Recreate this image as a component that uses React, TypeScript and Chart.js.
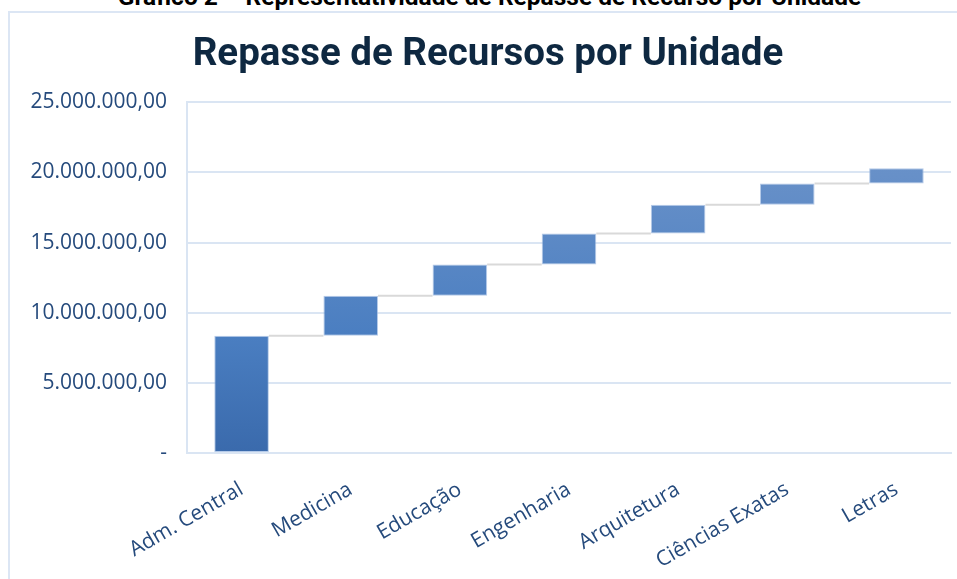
import React, { useEffect, useRef } from "react";
import { Chart, registerables } from "chart.js";

Chart.register(...registerables);

const categories = [
  "Adm. Central",
  "Medicina",
  "Educação",
  "Engenharia",
  "Arquitetura",
  "Ciências Exatas",
  "Letras",
];

// Repasse de recursos (R$) de cada unidade
const repasses = [8360000, 2850000, 2230000, 2200000, 2060000, 1500000, 1090000];

const yTickValues = [0, 5000000, 10000000, 15000000, 20000000, 25000000];
const yTickLabels = [
  "-",
  "5.000.000,00",
  "10.000.000,00",
  "15.000.000,00",
  "20.000.000,00",
  "25.000.000,00",
];

const chartTitle = "Repasse de Recursos por Unidade";
const figureCaption = "Gráfico 2 – Representatividade de Repasse de Recurso por Unidade";

const cumulative: number[] = [];
repasses.reduce((acc, v) => {
  const next = acc + v;
  cumulative.push(next);
  return next;
}, 0);
const floating = repasses.map((v, i) => [cumulative[i] - v, cumulative[i]]);

const axisColor = "#254A7C";
const gridColor = "#DAE5F3";

const connectorPlugin = {
  id: "connectors",
  beforeDatasetsDraw(chart: any) {
    const meta = chart.getDatasetMeta(0);
    const yScale = chart.scales.y;
    const ctx = chart.ctx;
    ctx.save();
    ctx.strokeStyle = "#D9D9D9";
    ctx.lineWidth = 2;
    for (let i = 0; i < meta.data.length - 1; i++) {
      const a = meta.data[i];
      const b = meta.data[i + 1];
      const yy = yScale.getPixelForValue(cumulative[i]);
      ctx.beginPath();
      ctx.moveTo(a.x + a.width / 2, yy);
      ctx.lineTo(b.x - b.width / 2, yy);
      ctx.stroke();
    }
    ctx.restore();
  },
};

export default function App() {
  const ref = useRef<HTMLCanvasElement | null>(null);

  useEffect(() => {
    if (!ref.current) return;
    const chart = new Chart(ref.current, {
      type: "bar",
      data: {
        labels: categories,
        datasets: [
          {
            data: floating as any,
            backgroundColor: (c: any) => {
              const area = c.chart.chartArea;
              if (!area) return "#4A7EC1";
              const g = c.chart.ctx.createLinearGradient(0, area.bottom, 0, area.top);
              g.addColorStop(0, "#3A6AAC");
              g.addColorStop(0.33, "#4A7EC1");
              g.addColorStop(0.79, "#6790C8");
              g.addColorStop(1, "#6E96CB");
              return g;
            },
            borderColor: "rgba(150,180,222,0.7)",
            borderWidth: 1,
            borderSkipped: false,
            categoryPercentage: 1,
            barPercentage: 0.5,
          },
        ],
      },
      options: {
        animation: false,
        responsive: false,
        maintainAspectRatio: false,
        layout: { padding: { left: 25, right: 6, top: 0, bottom: 0 } },
        plugins: {
          legend: { display: false },
          tooltip: { enabled: false },
          title: {
            display: true,
            text: chartTitle,
            color: "#0E2841",
            font: { family: "Roboto", weight: "bold", size: 38.5 },
            padding: { top: 32, bottom: 24 },
          },
        },
        scales: {
          x: {
            grid: { display: false },
            border: { display: true, color: gridColor, width: 2 },
            ticks: {
              color: axisColor,
              font: { family: "'Open Sans'", size: 21 },
              minRotation: 30,
              maxRotation: 30,
              autoSkip: false,
              padding: 16,
            },
            afterFit: (s: any) => {
              s.height = 126;
            },
          },
          y: {
            min: 0,
            max: 25000000,
            afterBuildTicks: (s: any) => {
              s.ticks = yTickValues.map((v) => ({ value: v }));
            },
            ticks: {
              color: axisColor,
              font: { family: "'Open Sans'", size: 21 },
              padding: 20,
              callback: (_v: any, i: number) => yTickLabels[i],
            },
            grid: { color: gridColor, lineWidth: 2, drawTicks: false },
            border: { display: true, color: gridColor, width: 2 },
            afterFit: (s: any) => {
              s.width = 162;
            },
          },
        },
      },
      plugins: [connectorPlugin],
    });
    return () => chart.destroy();
  }, []);

  return (
    <div
      style={{
        position: "absolute",
        left: 0,
        top: 0,
        width: 957,
        height: 579,
        overflow: "hidden",
        background: "#fff",
      }}
    >
      <div
        style={{
          position: "absolute",
          left: 0,
          width: 979,
          top: -15,
          textAlign: "center",
          fontFamily: "Roboto",
          fontWeight: 700,
          fontSize: 24.5,
          lineHeight: "24.5px",
          color: "#000",
          whiteSpace: "nowrap",
        }}
      >
        {figureCaption}
      </div>
      <div
        style={{
          position: "absolute",
          left: 8,
          top: 11,
          width: 1000,
          height: 700,
          border: "2px solid #DCE6F4",
        }}
      />
      <canvas
        ref={ref}
        width={957}
        height={579}
        style={{ position: "absolute", left: 0, top: 0, width: 957, height: 579 }}
      />
    </div>
  );
}
